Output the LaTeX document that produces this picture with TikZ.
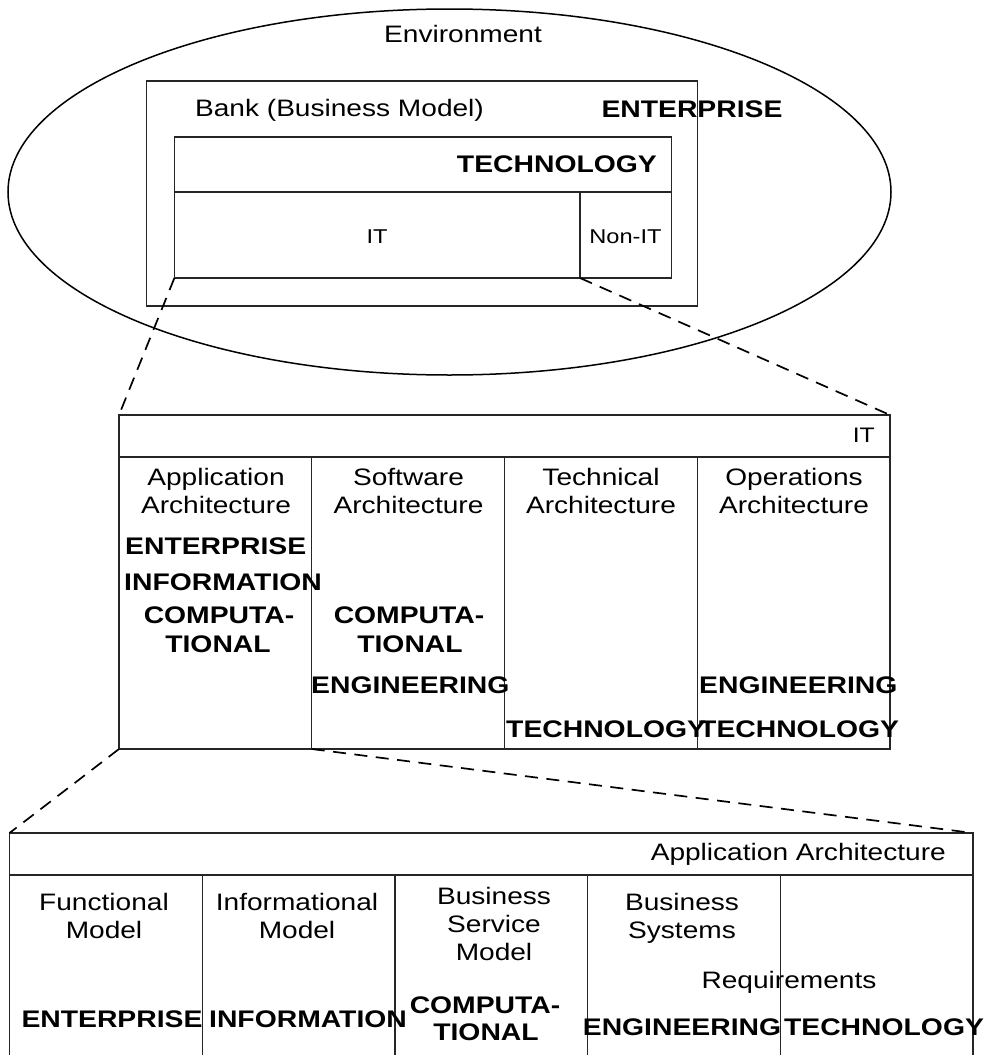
\documentclass[tikz,border=0pt]{standalone}
\usepackage{fontspec}
\setmainfont{Liberation Sans}[FakeStretch=1.18]
\usetikzlibrary{shapes.geometric}
\begin{document}
\begin{tikzpicture}[x=1pt,y=-1pt,
  box/.style={draw=black!85, line width=1.2pt, inner sep=0pt, outer sep=0pt, anchor=north west},
  env/.style={draw=black, line width=1.5pt, ellipse, inner sep=0pt, outer sep=0pt},
  conn/.style={draw=black, line width=1.7pt, dash pattern=on 13pt off 8.5pt},
  lbl/.style={inner sep=0pt, anchor=base, font=\fontsize{23.8}{28}\selectfont},
  blbl/.style={inner sep=0pt, anchor=base, font=\fontsize{24}{28}\selectfont\bfseries},
  slbl/.style={inner sep=0pt, anchor=base, font=\fontsize{20}{22}\selectfont},
  mlbl/.style={inner sep=0pt, anchor=base, font=\fontsize{21}{24}\selectfont}]
\useasboundingbox (0,0) rectangle (986,1055);
% ---------- top: environment ----------
\node[env, minimum width=883pt, minimum height=366pt] (env) at (449.5,192) {};
\node[box, minimum width=551pt, minimum height=225pt] (bank) at (146.7,81) {};
\node[box, minimum width=496.9pt, minimum height=55pt] (tech) at (174.4,137) {};
\node[box, minimum width=405.6pt, minimum height=86pt] (itcell) at (174.4,192) {};
\node[box, minimum width=91.3pt, minimum height=86pt] (nonit) at (580,192) {};
\node[lbl] (tEnv) at (463,42) {Environment};
\node[lbl] (tBank) at (339.5,116) {Bank (Business Model)};
\node[blbl] (tEnt) at (692,117) {ENTERPRISE};
\node[blbl, anchor=base east] (tTech) at (657,172) {TECHNOLOGY};
\node[slbl] (tIT) at (377,243) {IT};
\node[slbl] (tNonIT) at (625.5,243) {Non-IT};
% ---------- middle: IT ----------
\node[box, minimum width=771pt, minimum height=42pt] (midtitle) at (119,415) {};
\node[box, minimum width=192.75pt, minimum height=292pt] (m1) at (119,457) {};
\node[box, minimum width=192.75pt, minimum height=292pt] (m2) at (311.75,457) {};
\node[box, minimum width=192.75pt, minimum height=292pt] (m3) at (504.5,457) {};
\node[box, minimum width=192.75pt, minimum height=292pt] (m4) at (697.25,457) {};
\node[mlbl, anchor=base east] (mIT) at (875,442) {IT};
\node[lbl] (m1a) at (216,485) {Application};
\node[lbl] (m1b) at (216,513) {Architecture};
\node[lbl] (m2a) at (408.5,485) {Software};
\node[lbl] (m2b) at (408.5,513) {Architecture};
\node[lbl] (m3a) at (601,485) {Technical};
\node[lbl] (m3b) at (601,513) {Architecture};
\node[lbl] (m4a) at (794,485) {Operations};
\node[lbl] (m4b) at (794,513) {Architecture};
\node[blbl, anchor=base west] (m1e) at (125,554) {ENTERPRISE};
\node[blbl, anchor=base west] (m1i) at (124,590) {INFORMATION};
\node[blbl] (m1c) at (219,623) {COMPUTA-};
\node[blbl] (m1t) at (218,652) {TIONAL};
\node[blbl] (m2c) at (409,623) {COMPUTA-};
\node[blbl] (m2t) at (410,652) {TIONAL};
\node[blbl, anchor=base west] (m2g) at (311,693) {ENGINEERING};
\node[blbl, anchor=base west] (m3t) at (506,737) {TECHNOLOGY};
\node[blbl, anchor=base west] (m4g) at (699,693) {ENGINEERING};
\node[blbl, anchor=base west] (m4t) at (699,737) {TECHNOLOGY};
% ---------- bottom: application architecture ----------
\node[box, minimum width=963.5pt, minimum height=42pt] (bottitle) at (9.5,833) {};
\node[box, minimum width=192.7pt, minimum height=240pt] (b1) at (9.5,875) {};
\node[box, minimum width=192.7pt, minimum height=240pt] (b2) at (202.2,875) {};
\node[box, minimum width=192.7pt, minimum height=240pt] (b3) at (394.9,875) {};
\node[box, minimum width=192.7pt, minimum height=240pt] (b4) at (587.6,875) {};
\node[box, minimum width=192.7pt, minimum height=240pt] (b5) at (780.3,875) {};
\node[lbl, anchor=base east] (bAA) at (946,860) {Application Architecture};
\node[lbl] (b1a) at (104,910) {Functional};
\node[lbl] (b1b) at (104,938) {Model};
\node[lbl] (b2a) at (297,910) {Informational};
\node[lbl] (b2b) at (297,938) {Model};
\node[lbl] (b3a) at (494,904) {Business};
\node[lbl] (b3b) at (494,932) {Service};
\node[lbl] (b3c) at (494,960) {Model};
\node[lbl] (b4a) at (682,910) {Business};
\node[lbl] (b4b) at (682,938) {Systems};
\node[lbl] (bReq) at (789,988) {Requirements};
\node[blbl] (b1e) at (112,1027) {ENTERPRISE};
\node[blbl] (b2i) at (308,1027) {INFORMATION};
\node[blbl] (b3c1) at (485,1013) {COMPUTA-};
\node[blbl] (b3c2) at (486,1040) {TIONAL};
\node[blbl] (b4g) at (682,1035) {ENGINEERING};
\node[blbl] (b5t) at (884,1035) {TECHNOLOGY};
% ---------- connectors ----------
\draw[conn] (itcell.south west) -- (midtitle.north west);
\draw[conn] (itcell.south east) -- (midtitle.north east);
\draw[conn] (m1.south west) -- (bottitle.north west);
\draw[conn] (m1.south east) -- (bottitle.north east);
\end{tikzpicture}
\end{document}
